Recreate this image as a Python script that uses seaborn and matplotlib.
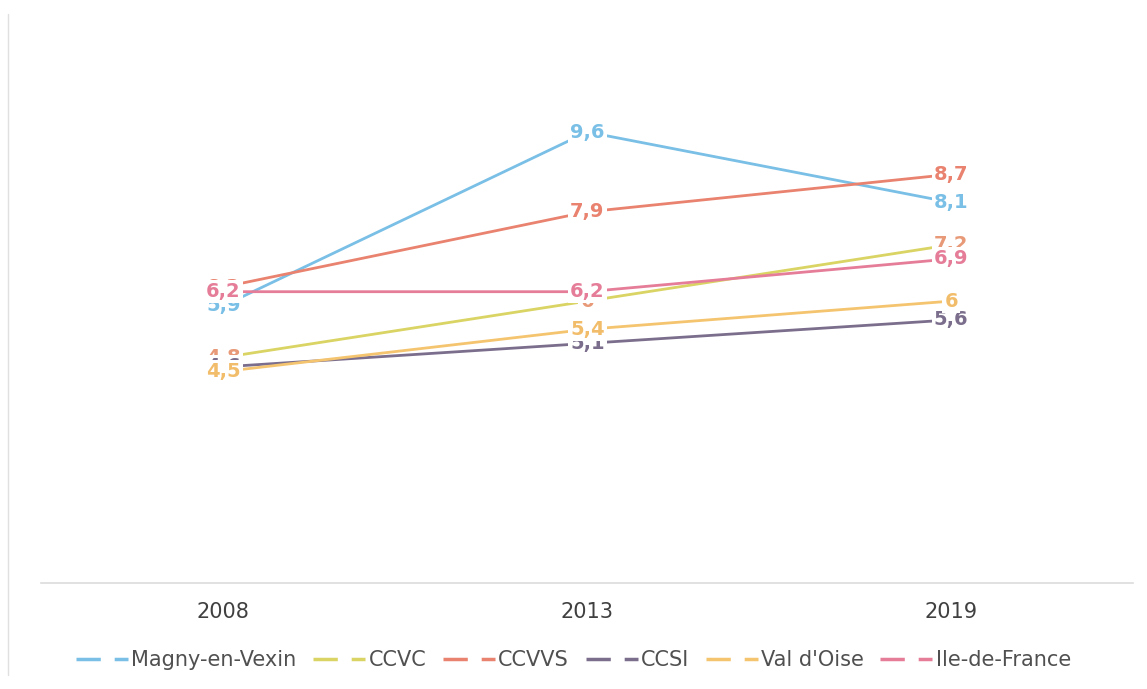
import seaborn as sns
import matplotlib.pyplot as plt
import pandas as pd
from matplotlib.lines import Line2D

# data
years = ['2008', '2013', '2019']
series = ['Magny-en-Vexin', 'CCVC', 'CCVVS', 'CCSI', "Val d'Oise", 'Ile-de-France']
magny = [5.9, 9.6, 8.1]
ccvc = [4.8, 6.0, 7.2]
ccvvs = [6.3, 7.9, 8.7]
ccsi = [4.6, 5.1, 5.6]
val_oise = [4.5, 5.4, 6.0]
idf = [6.2, 6.2, 6.9]

colors = ['#79bfe6', '#d9d463', '#e9826f', '#7b6e8c', '#f5c46f', '#e57c98']
label_colors = ['#79bfe6', '#e89a78', '#e9826f', '#7b6e8c', '#f2bd6a', '#e57c98']

values = [magny, ccvc, ccvvs, ccsi, val_oise, idf]
rows = []
for name, vals in zip(series, values):
    for i, v in enumerate(vals):
        rows.append({'x': i, 'year': years[i], 'value': v, 'serie': name})
df = pd.DataFrame(rows)

sns.set_style('white')
plt.rcParams['font.family'] = ['DejaVu Sans']

fig = plt.figure(figsize=(11.47, 6.89), dpi=100)
ax = fig.add_axes([0.036, 0.154, 0.952, 0.818])

sns.lineplot(data=df, x='x', y='value', hue='serie', palette=colors,
             hue_order=series, linewidth=2.0, ax=ax, legend=False, sort=False)

# data labels with white box, drawn on top of lines
for name, vals, c in zip(series, values, label_colors):
    for i, v in enumerate(vals):
        txt = ('%g' % v).replace('.', ',')
        ax.text(i, v, txt, color=c, fontsize=14, fontweight='bold',
                ha='center', va='center', zorder=5,
                bbox=dict(facecolor='white', edgecolor='none', pad=1.5))

ax.set_xlim(-0.5, 2.5)
ax.set_ylim(0, 12)
ax.set_xticks(range(3))
ax.set_xticklabels(years, fontsize=15, color='#404040')
ax.set_yticks([])
ax.set_xlabel('')
ax.set_ylabel('')
ax.tick_params(axis='x', length=0, pad=14)
for s in ['top', 'right', 'left']:
    ax.spines[s].set_visible(False)
ax.spines['bottom'].set_color('#dcdcdc')
ax.spines['bottom'].set_linewidth(1.2)

handles = [Line2D([0], [0], color=c, lw=2.5, linestyle=(0, (7, 4)))
           for c in colors]
fig.legend(handles, series, loc='center', bbox_to_anchor=(0.5, 0.042),
           ncol=6, frameon=False, fontsize=15, handlelength=2.5,
           handletextpad=0.15, columnspacing=0.8, labelcolor='#505050')

# faint border on the left edge
fig.add_artist(Line2D([0.007, 0.007], [0.02, 0.98], color='#e0e0e0', lw=1))

plt.savefig('out.png', dpi=100)
